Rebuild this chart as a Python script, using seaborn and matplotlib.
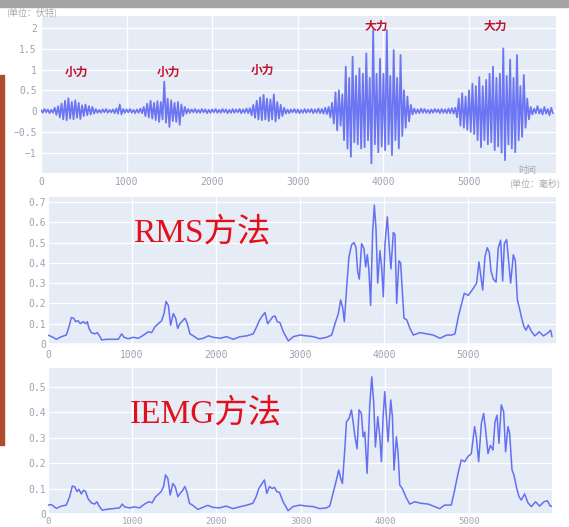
import matplotlib
matplotlib.use("Agg")
import matplotlib.pyplot as plt
import seaborn as sns
import pandas as pd
from matplotlib.patches import Rectangle

# ---------------- data ----------------
raw_step_ms = 20
raw_signal = [
    # 0 - 980 ms
    0.03, -0.04, 0.05, -0.03, 0.04, -0.05, 0.03, -0.04,
    0.08, -0.09, 0.12, -0.15,
    0.18, -0.2, 0.25, -0.22, 0.31, -0.18,
    0.22, -0.2, 0.26, -0.16, 0.2, -0.19,
    0.14, -0.12, 0.16, -0.1, 0.12, -0.08,
    0.1, -0.06, 0.05, -0.04,
    0.03, -0.04, 0.04, -0.03, 0.05, -0.04, 0.03, -0.03,
    0.04, -0.05, 0.06, -0.06, 0.16, -0.08, 0.05, -0.04,
    # 1000 - 1980 ms
    0.04, -0.03, 0.05, -0.04, 0.03, -0.05, 0.04, -0.04, 0.06, -0.05,
    0.1, -0.12, 0.18, -0.15, 0.25, -0.18, 0.2, -0.22, 0.24, -0.26, 0.22, -0.2, 0.71,
    -0.28, 0.3, -0.38, 0.26, -0.24, 0.2, -0.26, 0.22, -0.33, 0.16, -0.12, 0.1,
    -0.06, 0.05, -0.04, 0.04, -0.03, 0.05, -0.04, 0.03, -0.04, 0.05, -0.03, 0.04, -0.05, 0.03, -0.04,
    # 2000 - 2980 ms
    0.04, -0.03, 0.05, -0.04, 0.03, -0.04, 0.05, -0.03, 0.04, -0.05, 0.03, -0.04,
    0.05, -0.04, 0.04, -0.03, 0.05, -0.05, 0.04, -0.04, 0.06, -0.05, 0.07,
    -0.1, 0.15, -0.16, 0.25, -0.2, 0.33, -0.22, 0.39, -0.2, 0.3, -0.24, 0.28, -0.2, 0.4,
    -0.25, 0.22, -0.18, 0.15, -0.12, 0.08, -0.06,
    0.04, -0.05, 0.04, -0.03, 0.05, -0.04,
    # 3000 - 3980 ms
    0.04, -0.05, 0.03, -0.04, 0.05, -0.04, 0.04, -0.03, 0.05, -0.05, 0.04, -0.04,
    0.06, -0.05, 0.05, -0.06, 0.08, -0.07, 0.1,
    -0.15, 0.2, -0.3, 0.45, -0.46, 0.5, -0.35, 0.4,
    -0.7, 1.07, -0.9, 0.8, -1.1, 1.31, -0.75, 0.85, -0.8, 1.03, -0.9, 0.9,
    -0.87, 1.39, -0.7, 0.8, -1.26, 1.95, -0.8, 0.9, -0.99, 1.26, -0.85,
    # 4000 - 4980 ms
    0.9, -0.94, 1.95, -0.8, 0.85, -1.06, 1.47, -0.7, 0.8, -0.9, 1.35, -0.6,
    0.5, -0.4, 0.35, -0.25, 0.15,
    -0.08, 0.06, -0.05, 0.04, -0.05, 0.06, -0.04, 0.05, -0.04, 0.03, -0.05, 0.04, -0.04,
    0.05, -0.03, 0.04, -0.05, 0.05, -0.04, 0.04, -0.05, 0.06, -0.05, 0.07, -0.06, 0.08,
    -0.15, 0.3, -0.35, 0.43, -0.4, 0.35, -0.45,
    # 5000 - 5980 ms
    0.5, -0.5, 0.66, -0.55, 0.6, -0.7, 0.82, -0.87, 0.6, -0.7, 0.75, -0.8,
    0.9, -0.75, 1.07, -0.94, 0.8, -0.85, 0.9, -1.0, 1.51, -1.18, 0.85, -0.8,
    1.24, -0.9, 0.8, -0.99, 1.35, -0.7, 0.6, -0.62, 0.87, -0.4, 0.3, -0.2,
    0.1, -0.08, 0.06, -0.05, 0.12, -0.06, 0.05, -0.08, 0.1, -0.06, 0.05, -0.1, 0.08, -0.05,
]
raw_time = [i * raw_step_ms for i in range(len(raw_signal))]

rms_time = [0, 60, 99, 159, 218, 250, 278, 306, 329, 357, 385, 417, 448, 468, 488, 516,
            559, 587, 619, 639, 698, 778, 837, 877, 905, 956, 1016, 1075, 1135, 1194,
            1234, 1274, 1313, 1353, 1381, 1405, 1433, 1460, 1492, 1520, 1544, 1571, 1603,
            1631, 1659, 1690, 1730, 1790, 1849, 1909, 1968, 2048, 2127, 2206, 2286, 2365,
            2444, 2484, 2516, 2544, 2583, 2615, 2643, 2675, 2702, 2730, 2762, 2802, 2861,
            2920, 3000, 3080, 3159, 3238, 3318, 3377, 3417, 3457, 3484, 3508, 3528, 3556,
            3583, 3615, 3643, 3667, 3686, 3706, 3734, 3762, 3782, 3802, 3821, 3841, 3865,
            3885, 3905, 3925, 3952, 3972, 3992, 4012, 4040, 4063, 4083, 4111, 4131, 4151,
            4178, 4198, 4218, 4238, 4270, 4309, 4349, 4429, 4508, 4587, 4667, 4746, 4806,
            4845, 4885, 4925, 4956, 5004, 5063, 5103, 5131, 5155, 5175, 5202, 5230, 5254,
            5274, 5302, 5334, 5361, 5389, 5413, 5433, 5460, 5484, 5508, 5540, 5564, 5588,
            5611, 5639, 5667, 5691, 5718, 5758, 5797, 5849, 5897, 5937, 5984, 6000]
rms_value = [0.044, 0.033, 0.023, 0.036, 0.044, 0.085, 0.13, 0.127, 0.11, 0.115, 0.10, 0.11,
             0.10, 0.11, 0.077, 0.056, 0.05, 0.056, 0.036, 0.02, 0.023, 0.023, 0.023, 0.05,
             0.033, 0.026, 0.033, 0.028, 0.043, 0.06, 0.056, 0.085, 0.10, 0.115, 0.15, 0.21,
             0.19, 0.093, 0.15, 0.127, 0.077, 0.10, 0.115, 0.127, 0.10, 0.05, 0.04, 0.023,
             0.028, 0.04, 0.033, 0.028, 0.036, 0.023, 0.036, 0.04, 0.05, 0.085, 0.115, 0.134,
             0.155, 0.10, 0.115, 0.134, 0.138, 0.11, 0.105, 0.06, 0.015, 0.036, 0.044, 0.04,
             0.036, 0.026, 0.033, 0.044, 0.10, 0.15, 0.217, 0.18, 0.11, 0.28, 0.43, 0.49,
             0.50, 0.475, 0.36, 0.32, 0.495, 0.47, 0.38, 0.44, 0.36, 0.19, 0.55, 0.685, 0.57,
             0.30, 0.46, 0.38, 0.233, 0.495, 0.627, 0.475, 0.37, 0.55, 0.54, 0.20, 0.41, 0.40,
             0.266, 0.127, 0.12, 0.077, 0.044, 0.056, 0.05, 0.044, 0.028, 0.044, 0.044, 0.05,
             0.134, 0.20, 0.25, 0.24, 0.274, 0.30, 0.405, 0.33, 0.266, 0.43, 0.475, 0.45,
             0.36, 0.32, 0.305, 0.475, 0.512, 0.31, 0.495, 0.515, 0.41, 0.30, 0.44, 0.41,
             0.217, 0.18, 0.127, 0.085, 0.068, 0.093, 0.06, 0.04, 0.06, 0.04, 0.05, 0.068,
             0.036]

iemg_time = [0, 40, 99, 158, 217, 257, 289, 317, 344, 368, 395, 423, 447, 474, 514, 554,
             581, 613, 645, 692, 771, 850, 882, 909, 969, 1028, 1087, 1147, 1198, 1237,
             1277, 1316, 1344, 1372, 1396, 1423, 1451, 1483, 1510, 1542, 1570, 1601, 1625,
             1649, 1680, 1720, 1779, 1839, 1898, 1957, 2036, 2116, 2195, 2274, 2353, 2432,
             2472, 2503, 2531, 2570, 2598, 2630, 2661, 2689, 2717, 2749, 2792, 2851, 2910,
             2990, 3069, 3148, 3227, 3306, 3346, 3385, 3425, 3452, 3476, 3496, 3524, 3544,
             3575, 3603, 3623, 3643, 3670, 3694, 3722, 3742, 3762, 3789, 3821, 3845, 3868,
             3888, 3916, 3940, 3959, 3979, 3999, 4018, 4038, 4070, 4090, 4109, 4137, 4157,
             4177, 4208, 4248, 4295, 4354, 4433, 4513, 4592, 4651, 4711, 4789, 4829, 4869,
             4908, 4948, 4987, 5027, 5066, 5086, 5114, 5146, 5173, 5197, 5225, 5253, 5284,
             5308, 5332, 5355, 5383, 5411, 5434, 5462, 5482, 5510, 5533, 5561, 5593, 5620,
             5660, 5699, 5739, 5790, 5838, 5889, 5929, 5965, 6000]
iemg_value = [0.035, 0.037, 0.022, 0.031, 0.035, 0.068, 0.11, 0.107, 0.088, 0.097, 0.079,
              0.094, 0.088, 0.061, 0.044, 0.039, 0.048, 0.028, 0.015, 0.018, 0.021, 0.024,
              0.039, 0.028, 0.024, 0.028, 0.024, 0.039, 0.048, 0.044, 0.068, 0.079, 0.088,
              0.108, 0.154, 0.14, 0.075, 0.12, 0.108, 0.068, 0.081, 0.094, 0.108, 0.088,
              0.042, 0.034, 0.018, 0.026, 0.034, 0.026, 0.024, 0.031, 0.021, 0.028, 0.034,
              0.042, 0.068, 0.10, 0.114, 0.134, 0.081, 0.108, 0.10, 0.105, 0.088, 0.085,
              0.048, 0.013, 0.029, 0.035, 0.031, 0.029, 0.021, 0.024, 0.031, 0.081, 0.134,
              0.173, 0.14, 0.12, 0.252, 0.363, 0.376, 0.41, 0.363, 0.31, 0.257, 0.41, 0.396,
              0.304, 0.323, 0.16, 0.43, 0.54, 0.436, 0.264, 0.383, 0.304, 0.206, 0.383,
              0.482, 0.383, 0.285, 0.449, 0.383, 0.173, 0.304, 0.238, 0.114, 0.10, 0.068,
              0.039, 0.048, 0.042, 0.039, 0.029, 0.021, 0.035, 0.035, 0.094, 0.16, 0.213,
              0.206, 0.226, 0.238, 0.344, 0.304, 0.206, 0.356, 0.396, 0.33, 0.238, 0.27,
              0.252, 0.363, 0.389, 0.278, 0.43, 0.402, 0.245, 0.344, 0.317, 0.173, 0.154,
              0.108, 0.068, 0.055, 0.079, 0.044, 0.029, 0.048, 0.031, 0.048, 0.052, 0.031,
              0.031]

x_ticks = [0, 1000, 2000, 3000, 4000, 5000]
raw_y_ticks = [-1, -0.5, 0, 0.5, 1, 1.5, 2]
raw_y_labels = ["\u22121", "\u22120.5", "0", "0.5", "1", "1.5", "2"]
rms_y_ticks = [0, 0.1, 0.2, 0.3, 0.4, 0.5, 0.6, 0.7]
iemg_y_ticks = [0, 0.1, 0.2, 0.3, 0.4, 0.5]

force_labels = ["小力", "小力", "小力", "大力", "大力"]
force_label_time = [409, 1484, 2582, 3914, 5304]
force_label_value = [0.94, 0.94, 0.99, 2.05, 2.05]

# ---------------- style ----------------
BG = "#E6ECF6"
LINE = "#6470F2"
RAW_LINE = "#6c76f2"
TICK = "#9ea2b4"
sns.set_theme(style="darkgrid", rc={
    "axes.facecolor": BG, "grid.color": "white", "grid.linewidth": 0.9,
    "axes.edgecolor": BG, "figure.facecolor": "white",
})
plt.rcParams["font.family"] = ["DejaVu Sans Mono", "Noto Sans CJK SC"]

W, H = 569, 527
fig = plt.figure(figsize=(W / 100, H / 100), dpi=100)


def add_ax(l, t, r, b):
    return fig.add_axes([l / W, 1 - b / H, (r - l) / W, (b - t) / H])


ax1 = add_ax(41, 16, 556, 173)
ax2 = add_ax(48, 197, 556, 346)
ax3 = add_ax(48, 368, 552, 516)

raw_df = pd.DataFrame({"time": raw_time, "value": raw_signal})
rms_df = pd.DataFrame({"time": rms_time, "value": rms_value})
iemg_df = pd.DataFrame({"time": iemg_time, "value": iemg_value})

sns.lineplot(data=raw_df, x="time", y="value", ax=ax1, color=RAW_LINE, linewidth=1.3,
             estimator=None, sort=False, zorder=3)
sns.lineplot(data=rms_df, x="time", y="value", ax=ax2, color=LINE, linewidth=1.1,
             estimator=None, sort=False, zorder=3)
sns.lineplot(data=iemg_df, x="time", y="value", ax=ax3, color=LINE, linewidth=1.1,
             estimator=None, sort=False, zorder=3)

ax1.set_xlim(0, 6016)
ax1.set_ylim(-1.49, 2.29)
ax2.set_xlim(0, 6048)
ax2.set_ylim(-0.01, 0.725)
ax3.set_xlim(0, 5985)
ax3.set_ylim(-0.008, 0.575)

ax1.set_yticks(raw_y_ticks)
ax1.set_yticklabels(raw_y_labels)
ax2.set_yticks(rms_y_ticks)
ax2.set_yticklabels([f"{v:g}" for v in rms_y_ticks])
ax3.set_yticks(iemg_y_ticks)
ax3.set_yticklabels([f"{v:g}" for v in iemg_y_ticks])

for ax in (ax1, ax2, ax3):
    ax.set_xticks(x_ticks)
    ax.set_xticklabels([str(v) for v in x_ticks])
    ax.set_xlabel("")
    ax.set_ylabel("")
    for s in ax.spines.values():
        s.set_visible(False)
    ax.tick_params(length=0, labelsize=7, colors=TICK, pad=3)
    ax.axhline(0, color="white", linewidth=1.8, zorder=1)
ax2.tick_params(axis="y", pad=1.5)
ax3.tick_params(axis="y", pad=1.5)
ax3.tick_params(axis="x", pad=1.0, labelsize=6.5)

# annotations in the first panel
for lab, t, v in zip(force_labels, force_label_time, force_label_value):
    ax1.text(t, v, lab, color="#c0142c", fontsize=8.5, fontweight="bold",
             ha="center", va="center", family=["Noto Sans CJK SC"], zorder=5)

fig.text(6 / W, 1 - 12 / H, "(单位：伏特)", fontsize=6.5, color="#a8a8b0",
         va="center", ha="left", family=["Noto Sans CJK SC"])
fig.text(527 / W, 1 - 171 / H, "时间", fontsize=6.5, color="#a8a8b0",
         va="center", ha="center", family=["Noto Sans CJK SC"])
fig.text(509 / W, 1 - 183 / H, "(单位：毫秒)", fontsize=6.5, color="#a8a8b0",
         va="center", ha="left", family=["Noto Sans CJK SC"])

fig.text(133 / W, 1 - 233 / H, "RMS方法", fontsize=24, color="#e3101c",
         va="center", ha="left", family=["Liberation Serif", "Noto Sans CJK SC"])
fig.text(130 / W, 1 - 414 / H, "IEMG方法", fontsize=24, color="#e3101c",
         va="center", ha="left", family=["Liberation Serif", "Noto Sans CJK SC"])

# screenshot frame pieces
fig.patches.append(Rectangle((0, 1 - 7 / H), 1, 7 / H, transform=fig.transFigure,
                             color="#a4a4a4", zorder=0))
fig.patches.append(Rectangle((0, 1 - 445 / H), 4 / W, 370 / H, transform=fig.transFigure,
                             color="#b04a2c", zorder=0))

fig.savefig("out.png", dpi=100)
